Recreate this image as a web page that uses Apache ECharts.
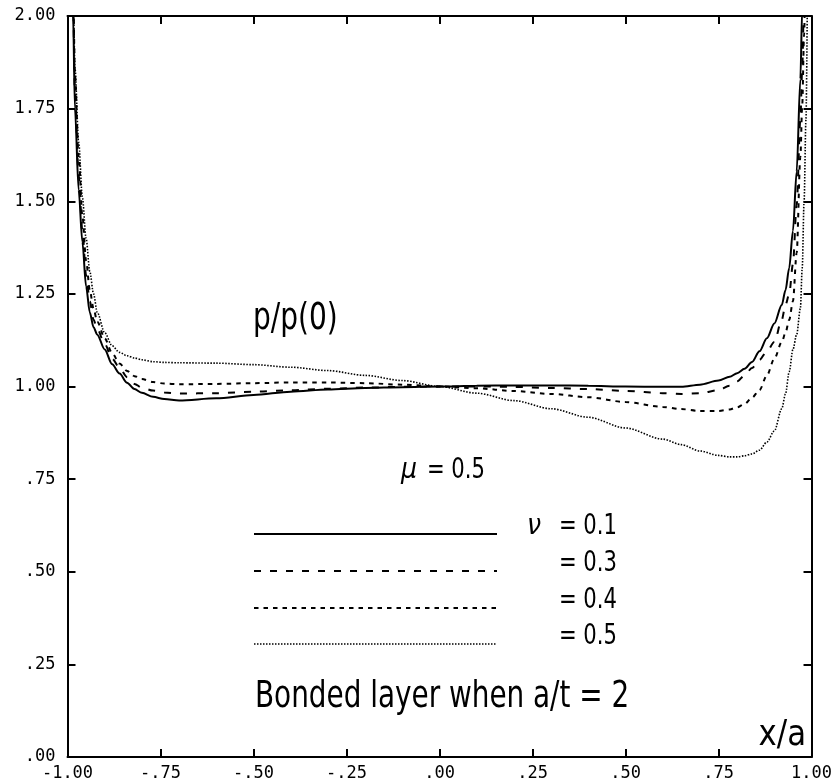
<!DOCTYPE html>
<html>
<head>
<meta charset="utf-8">
<script src="https://cdn.jsdelivr.net/npm/echarts@6/dist/echarts.min.js"></script>
<style>
  html, body { margin: 0; padding: 0; background: #fff; }
  #chart { width: 835px; height: 782px; }
</style>
</head>
<body>
<div id="chart"></div>
<script>
// x/a positions shared by all curves (denser near the edges)
const xs = [-0.99, -0.985, -0.98, -0.97, -0.96, -0.95, -0.94, -0.93, -0.92, -0.90,
  -0.88, -0.86, -0.84, -0.82, -0.80, -0.77, -0.74, -0.70, -0.60, -0.50,
  -0.40, -0.30, -0.20, -0.10, 0, 0.10, 0.20, 0.30, 0.40, 0.50,
  0.60, 0.65, 0.70, 0.75, 0.78, 0.80, 0.82, 0.84, 0.86, 0.88,
  0.90, 0.92, 0.93, 0.94, 0.95, 0.96, 0.97, 0.975, 0.98, 0.985, 0.99]

// p/p(0) for each Poisson ratio
const nu01 = [2.30, 2.00, 1.75, 1.53, 1.39, 1.27, 1.20, 1.16, 1.14, 1.10,
  1.06, 1.035, 1.01, 0.993, 0.983, 0.972, 0.966, 0.962, 0.968, 0.977,
  0.986, 0.992, 0.996, 0.998, 1.000, 1.002, 1.003, 1.003, 1.002, 1.000,
  0.999, 0.999, 1.005, 1.016, 1.026, 1.036, 1.048, 1.066, 1.095, 1.13,
  1.17, 1.22, 1.26, 1.32, 1.42, 1.58, 1.83, 2.02, 2.25, 2.6, 3.0]
const nu03 = [2.35, 2.04, 1.79, 1.57, 1.42, 1.30, 1.23, 1.18, 1.155, 1.115,
  1.075, 1.05, 1.025, 1.007, 0.997, 0.989, 0.984, 0.981, 0.982, 0.986,
  0.990, 0.994, 0.997, 0.999, 1.000, 1.000, 0.999, 0.996, 0.993, 0.988,
  0.982, 0.980, 0.982, 0.990, 1.002, 1.014, 1.03, 1.05, 1.072, 1.095,
  1.12, 1.18, 1.22, 1.25, 1.33, 1.49, 1.72, 1.86, 2.05, 2.35, 2.8]
const nu04 = [2.4, 2.08, 1.84, 1.62, 1.46, 1.34, 1.26, 1.21, 1.175, 1.13,
  1.09, 1.062, 1.042, 1.028, 1.02, 1.012, 1.008, 1.006, 1.007, 1.009,
  1.011, 1.011, 1.009, 1.005, 1.000, 0.995, 0.988, 0.980, 0.971, 0.958,
  0.945, 0.939, 0.934, 0.934, 0.938, 0.944, 0.953, 0.970, 0.99, 1.03,
  1.075, 1.12, 1.145, 1.18, 1.23, 1.36, 1.62, 1.76, 1.95, 2.2, 2.6]
const nu05 = [2.6, 2.07, 1.86, 1.66, 1.51, 1.40, 1.31, 1.25, 1.20, 1.145,
  1.11, 1.092, 1.083, 1.077, 1.072, 1.067, 1.065, 1.064, 1.063, 1.059,
  1.052, 1.043, 1.030, 1.016, 1.000, 0.982, 0.962, 0.940, 0.917, 0.888,
  0.858, 0.843, 0.826, 0.814, 0.810, 0.810, 0.813, 0.818, 0.828, 0.850,
  0.88, 0.94, 0.98, 1.04, 1.10, 1.14, 1.21, 1.32, 1.50, 1.72, 2.2]

const seriesNames = ['= 0.1', '= 0.3', '= 0.4', '= 0.5']
const seriesValues = [nu01, nu03, nu04, nu05]
const lineTypes = ['solid', [7, 9], [4.5, 5], [1.5, 1.5]]
const lineWidths = [2, 2, 2, 1.6]

const chart = echarts.init(document.getElementById('chart'))

const fmt = v => v.toFixed(2).replace(/^(-?)0\./, '$1.')
const monoLabel = { fontFamily: 'DejaVu Sans Mono', fontSize: 17, color: '#000' }
const sans = "'DejaVu Sans Condensed', 'DejaVu Sans', sans-serif"
const textFont = '38px ' + sans
const midFont = '28px ' + sans
const greekFont = "italic 28px 'DejaVu Sans', sans-serif"

const axisBase = {
  type: 'value',
  interval: 0.25,
  axisLine: { show: true, onZero: false, lineStyle: { color: '#000', width: 2 } },
  axisTick: { show: true, inside: true, length: 8, lineStyle: { color: '#000', width: 2 } },
  splitLine: { show: false },
}

const legendRows = [534, 571, 608, 644]

const graphics = []
legendRows.forEach((y, i) => {
  graphics.push({
    type: 'line',
    shape: { x1: 254, y1: y, x2: 497, y2: y },
    style: { stroke: '#000', lineWidth: lineWidths[i], lineDash: lineTypes[i] === 'solid' ? null : lineTypes[i] },
  })
  graphics.push({
    type: 'text',
    x: 617, y: y - 7, scaleX: 0.84,
    style: { text: seriesNames[i], font: midFont, fill: '#000', textAlign: 'right', textVerticalAlign: 'middle' },
  })
})
graphics.push(
  { type: 'text', x: 527, y: 527, scaleX: 0.9, style: { text: 'ν', font: greekFont, fill: '#000', textVerticalAlign: 'middle' } },
  { type: 'text', x: 253, y: 319, scaleX: 0.82, style: { text: 'p/p(0)', font: textFont, fill: '#000', textVerticalAlign: 'middle' } },
  { type: 'text', x: 401, y: 471, scaleX: 0.9, style: { text: 'μ', font: greekFont, fill: '#000', textVerticalAlign: 'middle' } },
  { type: 'text', x: 485, y: 471, scaleX: 0.84, style: { text: '= 0.5', font: midFont, fill: '#000', textAlign: 'right', textVerticalAlign: 'middle' } },
  { type: 'text', x: 255, y: 697, scaleX: 0.815, style: { text: 'Bonded layer when a/t = 2', font: textFont, fill: '#000', textVerticalAlign: 'middle' } },
  { type: 'text', x: 806, y: 736, scaleX: 0.95, style: { text: 'x/a', font: '36px ' + sans, fill: '#000', textAlign: 'right', textVerticalAlign: 'middle' } },
)

chart.setOption({
  animation: false,
  backgroundColor: '#fff',
  grid: { left: 67.5, right: 23, top: 16, bottom: 24.5 },
  xAxis: [
    { ...axisBase, min: -1, max: 1, position: 'bottom',
      axisLabel: { ...monoLabel, margin: 8, formatter: fmt } },
    { ...axisBase, min: -1, max: 1, position: 'top', axisLabel: { show: false } },
  ],
  yAxis: [
    { ...axisBase, min: 0, max: 2, position: 'left',
      axisLabel: { ...monoLabel, margin: 12, formatter: fmt } },
    { ...axisBase, min: 0, max: 2, position: 'right', axisLabel: { show: false } },
  ],
  series: seriesValues.map((vals, i) => ({
    name: seriesNames[i],
    type: 'line',
    xAxisIndex: 0,
    yAxisIndex: 0,
    data: xs.map((x, j) => [x, vals[j]]),
    showSymbol: false,
    smooth: 0.3,
    smoothMonotone: 'x',
    clip: true,
    lineStyle: { color: '#000', width: lineWidths[i], type: lineTypes[i] },
  })),
  graphic: graphics,
})
</script>
</body>
</html>
